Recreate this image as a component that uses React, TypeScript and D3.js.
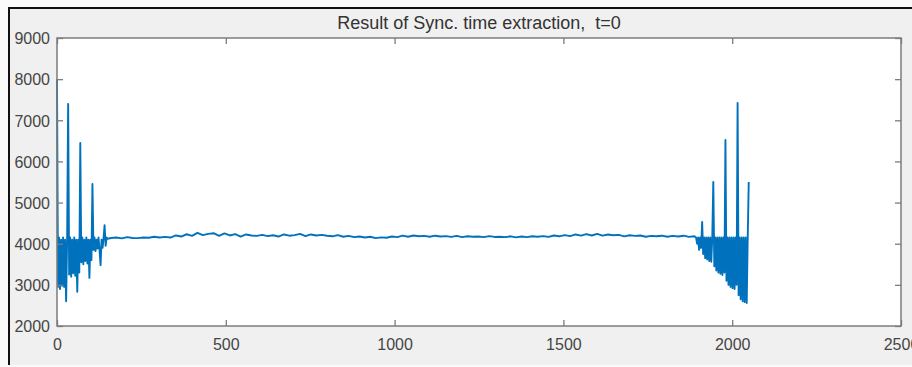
import React from 'react'
import { useEffect, useRef } from 'react'
import { select, scaleLinear, line, axisBottom, axisLeft, axisTop, axisRight, format } from 'd3'

// samples 0..150, every 3rd sample
const headStart = 0
const headStep = 3
const headValues = [
  8000, 2950, 4150, 2900, 4100, 2980, 4150, 2950, 4100, 2600,
  4100, 7400, 3250, 4150, 3200, 4100, 3280, 4150, 3220, 4100,
  2830, 4100, 3300, 6450, 3550, 4150, 3500, 4100, 3580, 4150,
  3520, 4100, 3170, 4100, 3600, 5450, 3850, 4150, 3820, 4100,
  3880, 4150, 3850, 3480, 4100, 3900, 4150, 4450, 3950, 4150,
  4120
]

// samples 160..1888, every 16th sample
const bodyStart = 160
const bodyStep = 16
const bodyValues = [
  4140, 4150, 4130, 4160, 4140, 4135, 4150, 4145, 4170, 4150,
  4165, 4150, 4200, 4175, 4230, 4190, 4265, 4210, 4240, 4255,
  4190, 4250, 4200, 4235, 4175, 4225, 4200, 4190, 4215, 4185,
  4205, 4175, 4225, 4195, 4210, 4240, 4185, 4225, 4200, 4215,
  4195, 4180, 4210, 4170, 4190, 4160, 4175, 4150, 4170, 4135,
  4155, 4145, 4175, 4160, 4195, 4170, 4200, 4180, 4190, 4170,
  4195, 4175, 4185, 4165, 4190, 4160, 4180, 4170, 4175, 4160,
  4185, 4165, 4170, 4160, 4180, 4155, 4175, 4160, 4180, 4170,
  4185, 4165, 4200, 4180, 4210, 4185, 4225, 4195, 4235, 4200,
  4240, 4195, 4225, 4205, 4215, 4180, 4205, 4190, 4200, 4170,
  4190, 4180, 4195, 4170, 4190, 4175, 4195, 4165, 4180
]

// samples 1893..2049, every 3rd sample
const tailStart = 1893
const tailStep = 3
const tailValues = [
  4150, 4000, 4150, 3850, 4150, 3900, 4530, 3750, 4150, 3650,
  4150, 3620, 4150, 3580, 4150, 3560, 4150, 5500, 3450, 4150,
  3350, 4150, 3300, 4150, 3270, 4150, 3240, 4150, 3300, 6520,
  3100, 4150, 3000, 4150, 2950, 4150, 2920, 4150, 2900, 4150,
  3000, 7420, 2750, 4150, 2650, 4150, 2600, 4150, 2580, 4150,
  2560, 4150, 5500
]

const xTicks = [0, 500, 1000, 1500, 2000, 2500]
const yTicks = [2000, 3000, 4000, 5000, 6000, 7000, 8000, 9000]
const title = 'Result of Sync. time extraction,  t=0'

function SyncChart() {
  const svgRef = useRef(null)

  useEffect(() => {
    const width = 912
    const height = 367
    const left = 57, right = 901, top = 38, bottom = 326

    const svg = select(svgRef.current)
    svg.selectAll('*').remove()

    // figure background + frame
    svg.append('rect').attr('width', width).attr('height', height).attr('fill', '#fafafa')
    svg.append('rect').attr('x', 10).attr('y', 9).attr('width', width - 10).attr('height', 356).attr('fill', '#f0f0f0')
    svg.append('rect').attr('x', 8).attr('y', 7).attr('width', width - 8).attr('height', 2).attr('fill', '#111')
    svg.append('rect').attr('x', 8).attr('y', 7).attr('width', 2).attr('height', 358).attr('fill', '#111')

    const x = scaleLinear().domain([0, 2500]).range([left, right])
    const y = scaleLinear().domain([2000, 9000]).range([bottom, top])

    svg.append('rect')
      .attr('x', left).attr('y', top)
      .attr('width', right - left).attr('height', bottom - top)
      .attr('fill', '#ffffff')

    const points = [
      ...headValues.map((v, i) => [headStart + i * headStep, v]),
      ...bodyValues.map((v, i) => [bodyStart + i * bodyStep, v]),
      ...tailValues.map((v, i) => [tailStart + i * tailStep, v]),
    ]

    const signal = line()
      .x(d => x(d[0]))
      .y(d => y(d[1]))

    svg.append('path')
      .datum(points)
      .attr('d', signal)
      .attr('fill', 'none')
      .attr('stroke', '#0072BD')
      .attr('stroke-width', 1.9)
      .attr('stroke-linejoin', 'round')

    const axisColor = '#7c7c7c'
    const font = '"Liberation Sans", Arial, sans-serif'
    const fmt = format('d')

    const gx = svg.append('g').attr('transform', `translate(0,${bottom})`)
      .call(axisBottom(x).tickValues(xTicks).tickFormat(fmt).tickSizeInner(-6).tickSizeOuter(0).tickPadding(0))
    gx.selectAll('text').attr('y', 24).attr('dy', 0)
    svg.append('g').attr('transform', `translate(0,${top})`)
      .call(axisTop(x).tickValues(xTicks).tickSizeInner(-6).tickSizeOuter(0).tickFormat(() => ''))

    const gy = svg.append('g').attr('transform', `translate(${left},0)`)
      .call(axisLeft(y).tickValues(yTicks).tickFormat(fmt).tickSizeInner(-6).tickSizeOuter(0).tickPadding(7))
    gy.selectAll('text').attr('dy', '0.36em')
    svg.append('g').attr('transform', `translate(${right},0)`)
      .call(axisRight(y).tickValues(yTicks).tickSizeInner(-6).tickSizeOuter(0).tickFormat(() => ''))

    svg.selectAll('.domain').remove()
    svg.selectAll('.tick line').attr('stroke', axisColor).attr('stroke-width', 1.3)
    svg.selectAll('.tick text')
      .attr('fill', '#454545')
      .style('font-family', font)
      .style('font-size', '16px')

    // axes box
    svg.append('rect')
      .attr('x', left).attr('y', top)
      .attr('width', right - left).attr('height', bottom - top)
      .attr('fill', 'none')
      .attr('stroke', axisColor)
      .attr('stroke-width', 1.5)

    svg.append('text')
      .attr('x', (left + right) / 2)
      .attr('y', 29)
      .attr('text-anchor', 'middle')
      .attr('fill', '#333')
      .style('font-family', font)
      .style('font-size', '18px')
      .style('white-space', 'pre')
      .text(title)
  }, [])

  return (
    <svg ref={svgRef} width={912} height={367}
      style={{ position: 'absolute', left: 0, top: 0, display: 'block' }} />
  )
}

export default function App() {
  return <SyncChart />
}
